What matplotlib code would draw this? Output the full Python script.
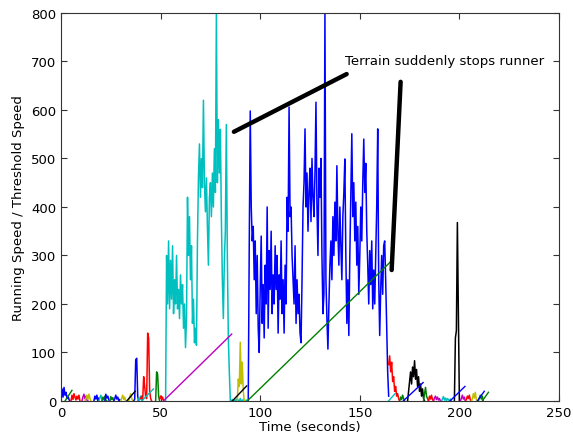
import numpy as np
import matplotlib
matplotlib.use('Agg')
import matplotlib.pyplot as plt

plt.rcParams['font.family'] = 'DejaVu Sans'
plt.rcParams['font.size'] = 9.5

STEP = 0.5  # sampling interval of the speed logs (s)

# running speed per run: colour, start time (s), speed samples
seg_color = ['b', 'r', 'm', 'y', 'b', 'c', 'g', 'b', 'g', 'b', 'y',
             'y', 'b', 'c', 'r', 'g', 'r',
             'c', 'c', 'y', 'b',
             'r', 'g', 'k', 'g', 'r', 'm', 'c', 'k', 'm', 'r', 'y', 'g']
seg_start = [0.0, 5.0, 10.5, 12.0, 16.5, 19.0, 20.5, 22.0, 24.5, 26.5, 30.0,
             34.0, 36.5, 38.5, 40.0, 47.5, 49.5,
             52.5, 85.5, 88.5, 94.0,
             164.5, 170.0, 174.0, 182.0, 184.5, 187.0, 191.0, 197.5, 200.5, 203.0, 206.0, 209.5]
seg_speed = [
    [0, 25, 8, 28, 12, 18, 5, 10, 3, 0],
    [0, 12, 3, 15, 8, 2, 10, 4, 12, 0],
    [0, 8, 14, 5, 10, 2, 0],
    [0, 5, 12, 3, 14, 6, 0],
    [0, 10, 4, 12, 0, 6],
    [0, 6, 12, 4, 0],
    [0, 8, 3, 10, 2, 0],
    [0, 14, 6, 10, 2, 0],
    [0, 9, 3, 7, 0],
    [0, 5, 12, 4, 8, 0, 3],
    [0, 6, 12, 3, 8, 0],
    [0, 8, 15, 5, 0],
    [0, 4, 85, 88, 10, 0],
    [0, 6, 3, 10, 2, 0],
    [5, 10, 3, 50, 30, 8, 5, 140, 130, 20, 5, 0],
    [0, 60, 55, 10, 0],
    [5, 10, 3, 8, 0],
    [0, 300, 200, 330, 190, 290, 210, 320, 180, 250, 200, 300, 190, 230,
     170, 260, 200, 240, 150, 200, 110, 170, 420, 300, 380, 250, 320, 160,
     210, 120, 150, 115, 330, 460, 530, 420, 500, 440, 620, 450, 390, 460,
     360, 280, 420, 450, 380, 470, 400, 520, 430, 800, 450, 580, 470, 560,
     380, 250, 170, 290, 350, 570, 300, 130, 60, 0],
    [0, 3, 0, 2, 0, 4, 0, 2, 0, 5, 0, 0, 3, 0, 0, 2, 0],
    [0, 45, 30, 121, 35, 80, 20, 0, 0],
    [0, 320, 598, 400, 330, 360, 250, 330, 180, 300, 150, 100, 230, 340,
     160, 240, 130, 280, 200, 400, 150, 310, 230, 350, 180, 260, 200, 320,
     230, 300, 140, 260, 210, 330, 180, 250, 140, 280, 200, 420, 350, 606,
     380, 400, 300, 250, 200, 320, 160, 250, 180, 220, 140, 120, 250, 400,
     450, 561, 400, 470, 350, 430, 480, 370, 500, 420, 380, 470, 616, 400,
     300, 480, 420, 500, 300, 180, 220, 800, 250, 170, 107, 200, 280, 330,
     250, 380, 300, 410, 330, 485, 350, 280, 400, 320, 250, 380, 430, 499,
     300, 160, 250, 135, 300, 420, 551, 380, 450, 330, 410, 280, 360, 220,
     300, 400, 330, 450, 540, 430, 490, 350, 280, 200, 310, 240, 330, 190,
     270, 200, 300, 400, 561, 250, 135, 230, 300, 220, 320, 330, 250, 160,
     60, 10],
    [75, 93, 60, 80, 40, 50, 20, 30, 10, 15, 5, 0],
    [0, 8, 3, 12, 5, 0],
    [0, 20, 40, 60, 35, 70, 50, 83, 45, 65, 30, 50, 20, 35, 10, 25, 5, 0],
    [0, 15, 28, 10, 5, 0],
    [0, 10, 4, 12, 3, 0],
    [0, 6, 10, 3, 8, 2, 5, 0],
    [0, 4, 9, 2, 6, 0, 5, 3, 0, 4, 0],
    [0, 130, 145, 368, 180, 0],
    [0, 5, 12, 4, 8, 0],
    [0, 3, 10, 5, 12, 2, 0],
    [0, 4, 15, 6, 18, 3, 0],
    [0, 6, 12, 4, 10, 0],
]

# threshold speed ramps: start time, end time, value at the end, colour
thr_start = [2.0, 33.0, 40.5, 51.4, 86.0, 93.5, 164.4, 171.8, 195.3, 209.0, 211.5]
thr_end = [5.5, 37.2, 46.4, 85.7, 93.2, 165.2, 167.7, 181.8, 202.8, 212.5, 214.6]
thr_top = [22, 20, 25, 138, 31, 286, 15, 38, 30, 20, 18]
thr_color = ['g', 'k', 'c', 'm', 'k', 'g', 'c', 'b', 'b', 'b', 'g']

note = 'Terrain suddenly stops runner'
note_xy = (142.6, 702)
pointer_from = [(143.4, 674), (170.5, 658)]
pointer_to = [(86.8, 555), (166.0, 270)]

fig = plt.figure(figsize=(5.73, 4.35), dpi=100)
ax = fig.add_axes([0.1065, 0.0759, 0.869, 0.892])

for c, t0, v in zip(seg_color, seg_start, seg_speed):
    t = t0 + STEP * np.arange(len(v))
    ax.plot(t, v, color=c, lw=1.1)

for t0, t1, top, c in zip(thr_start, thr_end, thr_top, thr_color):
    ax.plot([t0, t1], [0, top], color=c, lw=1.0)

ax.text(note_xy[0], note_xy[1], note, ha='left', va='center', fontsize=9.5)
for p0, p1 in zip(pointer_from, pointer_to):
    ax.annotate('', xy=p1, xytext=p0,
                arrowprops=dict(arrowstyle='-', lw=3.2, color='k',
                                shrinkA=0, shrinkB=0))

ax.set_xlim(0, 250)
ax.set_ylim(0, 800)
ax.set_xticks(np.arange(0, 251, 50))
ax.set_yticks(np.arange(0, 801, 100))
ax.tick_params(direction='in', top=True, right=True, length=4,
               labelsize=9.5, color='#333333')
for s in ax.spines.values():
    s.set_color('#333333')
ax.set_xlabel('Time (seconds)', labelpad=1)
ax.set_ylabel('Running Speed / Threshold Speed', labelpad=4)

fig.savefig('out.png', dpi=100, facecolor='white')
